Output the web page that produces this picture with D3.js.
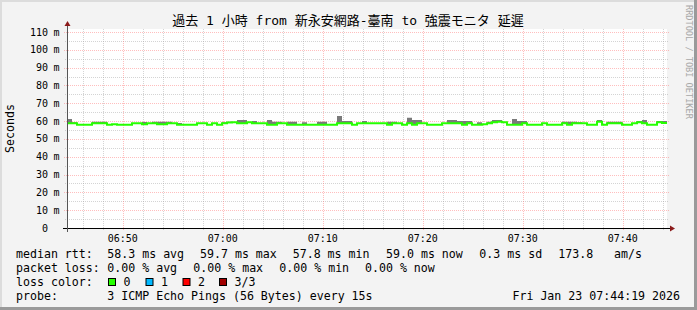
<!DOCTYPE html>
<html>
<head>
<meta charset="utf-8">
<script src="https://cdn.jsdelivr.net/npm/d3@7"></script>
<style>
  body { margin: 0; background: #f3f3f3; }
  svg text { font-family: "DejaVu Sans Mono", "Noto Sans CJK JP", monospace; white-space: pre; }
</style>
</head>
<body>
<svg id="chart" width="697" height="310"></svg>
<script>
// ── Data ────────────────────────────────────────────────────────────────────
const startTime = new Date(2026, 0, 23, 6, 44, 25);
const endTime   = new Date(2026, 0, 23, 7, 44, 25);
const stepSec   = 30;

// median rtt (ms), one value per 30 s step
const median = [
  58.8, 58.8, 57.9, 57.9, 57.9, 58.8, 58.8, 58.8, 57.9, 58.3,
  57.9, 57.9, 57.9, 58.8, 58.8, 58.3, 58.8, 58.8, 58.2, 58.2,
  58.8, 58.8, 57.9, 57.9, 57.9, 58.0, 58.8, 58.8, 57.9, 58.8,
  57.9, 58.8, 59.2, 59.4, 58.8, 58.8, 59.3, 58.8, 58.8, 58.8,
  57.9, 57.9, 58.8, 58.8, 57.9, 57.9, 57.9, 57.9, 57.9, 57.9,
  57.9, 57.9, 57.9, 57.9, 58.8, 58.8, 58.8, 57.9, 58.8, 58.8,
  58.8, 58.8, 58.8, 58.8, 57.9, 58.8, 58.8, 57.9, 58.8, 57.9,
  58.8, 58.8, 57.9, 57.9, 57.9, 58.8, 58.8, 58.8, 58.8, 57.9,
  58.8, 57.9, 57.9, 58.3, 58.8, 59.3, 59.7, 59.3, 57.9, 57.9,
  57.9, 58.8, 57.9, 57.9, 57.9, 58.8, 57.9, 57.9, 57.9, 58.8,
  57.9, 58.8, 58.8, 58.8, 57.9, 57.9, 59.7, 57.9, 58.8, 58.8,
  58.8, 57.9, 57.9, 58.8, 59.3, 58.8, 57.9, 57.9, 59.3, 59.0
];

// top of the ping spread ("smoke"), null where it stays within the median line
const smokeTop = [
  61.2, 59.3, null, null, null, 59.7, 59.7, 59.7, null, null,
  null, null, null, null, null, 59.5, null, 59.7, 59.7, 59.7,
  59.7, null, 59.0, null, null, null, null, null, null, null,
  null, 59.3, 59.7, null, 60.6, 60.6, null, 60.1, null, null,
  60.6, 59.7, 59.7, null, 59.7, 59.7, null, 59.3, null, null,
  59.7, 59.7, null, null, 62.9, 60.1, 60.1, null, null, 60.1,
  59.0, null, null, null, 59.7, 59.7, null, null, 61.9, 60.6,
  60.6, null, null, null, null, null, 60.6, 60.6, 60.1, 60.1,
  60.1, null, 59.3, null, 59.7, 60.6, 60.6, null, null, 61.2,
  60.1, 60.1, null, null, null, null, null, null, null, 59.7,
  59.7, 59.7, 59.3, null, null, null, 60.6, null, 59.7, 59.7,
  59.7, null, null, null, 60.1, 60.6, null, null, 60.1, 60.1
];

const yMax = 111.7;
const yMajorTicks = [0, 10, 20, 30, 40, 50, 60, 70, 80, 90, 100, 110];
const yMinorTicks = [5, 15, 25, 35, 45, 55, 65, 75, 85, 95, 105];

const title = '過去 1 小時 from 新永安網路-臺南 to 強震モニタ 延遲';
const rttStats  = ['58.3 ms avg', '59.7 ms max', '57.8 ms min', '59.0 ms now', '0.3 ms sd', '173.8', 'am/s'];
const lossStats = ['0.00 % avg', '0.00 % max', '0.00 % min', '0.00 % now'];
const lossLabels = ['0', '1', '2', '3/3'];
const lossColors = ['#26ff00', '#00b8ff', '#ff0000', '#a10000'];
const probeText = '3 ICMP Echo Pings (56 Bytes) every 15s';
const stampText = 'Fri Jan 23 07:44:19 2026';

// ── Layout ──────────────────────────────────────────────────────────────────
const W = 697, H = 310;
const plot = { left: 67, right: 667, top: 29, bottom: 228 };
const fontLegend = 11.6, fontAxis = 10;

const svg = d3.select('#chart');

// background + 3d shading
svg.append('rect').attr('width', W).attr('height', H).attr('fill', '#f3f3f3');
svg.append('rect').attr('x', 0).attr('y', 0).attr('width', W).attr('height', 2).attr('fill', '#dcdcdc');
svg.append('rect').attr('x', 0).attr('y', 0).attr('width', 2).attr('height', H).attr('fill', '#dcdcdc');
svg.append('rect').attr('x', 0).attr('y', H - 3).attr('width', W).attr('height', 3).attr('fill', '#9a9a9a');
svg.append('rect').attr('x', W - 3).attr('y', 0).attr('width', 3).attr('height', H).attr('fill', '#9a9a9a');

// canvas
svg.append('rect')
  .attr('x', plot.left).attr('y', plot.top)
  .attr('width', plot.right - plot.left).attr('height', plot.bottom - plot.top)
  .attr('fill', '#ffffff');

const x = d3.scaleTime().domain([startTime, endTime]).range([plot.left, plot.right]);
const y = d3.scaleLinear().domain([0, yMax]).range([plot.bottom, plot.top]);

const points = median.map((m, i) => ({
  t: new Date(startTime.getTime() + i * stepSec * 1000),
  m: m,
  s: smokeTop[i] == null ? m : smokeTop[i]
}));
// close the last step at the right edge
points.push({ t: endTime, m: median[median.length - 1], s: points[points.length - 1].s });

// ── Grid ────────────────────────────────────────────────────────────────────
const gridMinor = 'rgba(160,160,160,0.45)';
const gridMajor = 'rgba(255,110,110,0.45)';

yMinorTicks.forEach(v => {
  svg.append('line')
    .attr('x1', plot.left - 2).attr('x2', plot.right + 2)
    .attr('y1', Math.round(y(v)) + 0.5).attr('y2', Math.round(y(v)) + 0.5)
    .attr('stroke', gridMinor).attr('stroke-dasharray', '1,1');
});
yMajorTicks.filter(v => v > 0).forEach(v => {
  svg.append('line')
    .attr('x1', plot.left - 3).attr('x2', plot.right + 3)
    .attr('y1', Math.round(y(v)) + 0.5).attr('y2', Math.round(y(v)) + 0.5)
    .attr('stroke', gridMajor).attr('stroke-dasharray', '1,1');
});

const minorTimes = x.ticks(d3.timeMinute.every(2));
const majorTimes = x.ticks(d3.timeMinute.every(10));
minorTimes.filter(t => t.getMinutes() % 10 !== 0).forEach(t => {
  const px = Math.round(x(t)) + 0.5;
  svg.append('line')
    .attr('x1', px).attr('x2', px).attr('y1', plot.top).attr('y2', plot.bottom + 2)
    .attr('stroke', gridMinor).attr('stroke-dasharray', '1,1');
});
majorTimes.forEach(t => {
  const px = Math.round(x(t)) + 0.5;
  svg.append('line')
    .attr('x1', px).attr('x2', px).attr('y1', plot.top).attr('y2', plot.bottom + 3)
    .attr('stroke', gridMajor).attr('stroke-dasharray', '1,1');
});

// ── Smoke + median ──────────────────────────────────────────────────────────
const smoke = d3.area()
  .x(d => x(d.t))
  .y0(d => y(d.m))
  .y1(d => y(d.s))
  .curve(d3.curveStepAfter);
svg.append('path').datum(points)
  .attr('d', smoke).attr('fill', '#7a7a7a');

const medLine = d3.line()
  .x(d => x(d.t))
  .y(d => y(d.m))
  .curve(d3.curveStepAfter);
svg.append('path').datum(points)
  .attr('d', medLine).attr('fill', 'none')
  .attr('stroke', lossColors[0]).attr('stroke-width', 2);

// ── Axes ────────────────────────────────────────────────────────────────────
svg.append('line')
  .attr('x1', plot.left - 4).attr('x2', plot.right + 5)
  .attr('y1', plot.bottom + 0.5).attr('y2', plot.bottom + 0.5)
  .attr('stroke', '#000');
svg.append('line')
  .attr('x1', plot.left + 0.5).attr('x2', plot.left + 0.5)
  .attr('y1', plot.bottom + 4).attr('y2', plot.top - 4)
  .attr('stroke', '#555');
svg.append('path')
  .attr('d', `M${plot.right + 3},${plot.bottom - 2.5} L${plot.right + 8},${plot.bottom + 0.5} L${plot.right + 3},${plot.bottom + 3.5} Z`)
  .attr('fill', '#8b1a1a');
svg.append('path')
  .attr('d', `M${plot.left - 2.5},${plot.top - 3} L${plot.left + 0.5},${plot.top - 8} L${plot.left + 3.5},${plot.top - 3} Z`)
  .attr('fill', '#8b1a1a');

// y tick labels
yMajorTicks.forEach(v => {
  const py = y(v);
  svg.append('text')
    .attr('x', 48).attr('y', py).attr('dy', '0.35em')
    .attr('text-anchor', 'end').attr('font-size', fontAxis).attr('fill', '#000')
    .text(String(v));
  if (v > 0) {
    svg.append('text')
      .attr('x', 53.5).attr('y', py).attr('dy', '0.35em')
      .attr('font-size', fontAxis).attr('fill', '#000')
      .text('m');
  }
});

// x tick labels
majorTimes.forEach(t => {
  svg.append('text')
    .attr('x', x(t)).attr('y', 242)
    .attr('text-anchor', 'middle').attr('font-size', fontAxis).attr('fill', '#000')
    .text(d3.timeFormat('%H:%M')(t));
});

// y axis title
svg.append('text')
  .attr('transform', `translate(14,${(plot.top + plot.bottom) / 2}) rotate(-90)`)
  .attr('text-anchor', 'middle').attr('font-size', fontLegend).attr('fill', '#000')
  .text('Seconds');

// chart title
svg.append('text')
  .attr('x', 348).attr('y', 25)
  .attr('text-anchor', 'middle').attr('font-size', 13).attr('fill', '#000')
  .text(title);

// watermark
svg.append('text')
  .attr('transform', 'translate(686,5) rotate(90)')
  .attr('font-size', 8.6).attr('fill', '#a8a8a8')
  .text('RRDTOOL / TOBI OETIKER');

// ── Legend ──────────────────────────────────────────────────────────────────
const legend = svg.append('g').attr('font-size', fontLegend).attr('fill', '#000');

legend.append('text').attr('x', 16).attr('y', 258).text('median rtt:');
[107.3, 200, 292.7, 386, 479.3, 558.3, 614].forEach((px, i) => {
  legend.append('text').attr('x', px).attr('y', 258).text(rttStats[i]);
});

legend.append('text').attr('x', 16).attr('y', 272).text('packet loss:');
[107.3, 193.3, 279.3, 365].forEach((px, i) => {
  legend.append('text').attr('x', px).attr('y', 272).text(lossStats[i]);
});

legend.append('text').attr('x', 16).attr('y', 286).text('loss color:');
[108.5, 146, 183, 219.5].forEach((px, i) => {
  legend.append('rect')
    .attr('x', px).attr('y', 278.5).attr('width', 7).attr('height', 7)
    .attr('fill', lossColors[i]).attr('stroke', '#000').attr('stroke-width', 1);
  legend.append('text').attr('x', px + 15).attr('y', 286).text(lossLabels[i]);
});

legend.append('text').attr('x', 16).attr('y', 300).text('probe:');
legend.append('text').attr('x', 107.3).attr('y', 300).text(probeText);
legend.append('text').attr('x', 680).attr('y', 300).attr('text-anchor', 'end').text(stampText);
</script>
</body>
</html>
